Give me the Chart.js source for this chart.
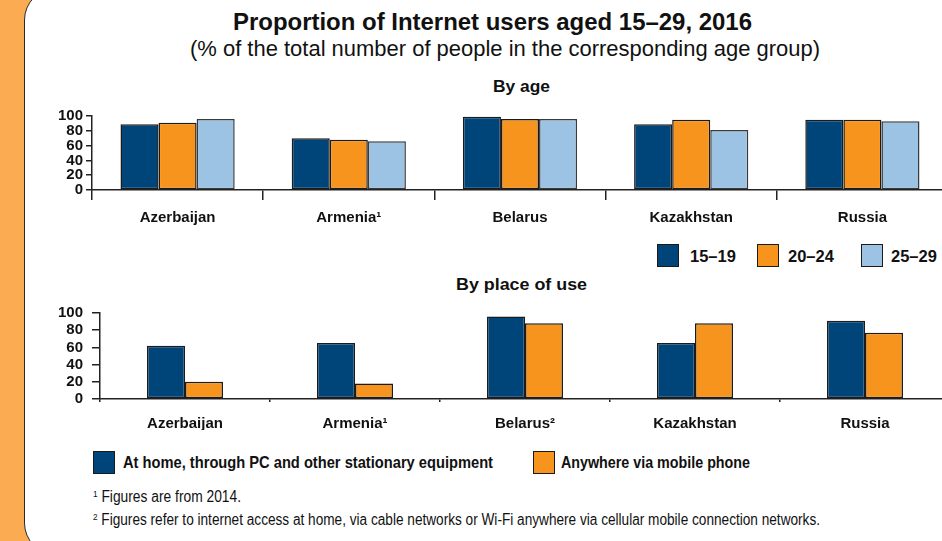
<!DOCTYPE html>
<html>
<head>
<meta charset="utf-8">
<script src="https://cdn.jsdelivr.net/npm/chart.js@4.4.1/dist/chart.umd.min.js"></script>
<style>
  html, body { margin: 0; padding: 0; }
  body { width: 942px; height: 541px; overflow: hidden; position: relative; background: #fbab52; font-family: "Liberation Sans", Arial, sans-serif; color: #111; }
  .panel { position: absolute; left: 24px; top: -12px; width: 960px; height: 565px; background: #fff; border: 1.5px solid #2a2a2a; border-radius: 32px 0 0 32px; }
  .txt { position: absolute; white-space: nowrap; line-height: 1; transform-origin: 0 50%; }
  .chart-box { position: absolute; left: 0; width: 960px; }
  .swatch { position: absolute; box-sizing: border-box; border: 1.5px solid #1b1b1b; }
  sup { font-size: 0.6em; vertical-align: 0.55em; line-height: 0; }
</style>
</head>
<body>
<div class="panel"></div>

<div class="txt" data-w="519" style="left:233px; top:10px; font-size:24px; font-weight:bold;">Proportion of Internet users aged 15–29, 2016</div>
<div class="txt" data-w="630" style="left:190px; top:38px; font-size:22px;">(% of the total number of people in the corresponding age group)</div>
<div class="txt" data-w="57" style="left:493px; top:78px; font-size:17px; font-weight:bold;">By age</div>

<div class="chart-box" style="top:100px; height:130px;"><canvas id="ageChart"></canvas></div>

<div id="ageLegend"></div>

<div class="txt" data-w="131" style="left:456px; top:276px; font-size:17px; font-weight:bold;">By place of use</div>

<div class="chart-box" style="top:295px; height:135px;"><canvas id="placeChart"></canvas></div>

<div id="placeLegend"></div>

<div class="txt" data-w="148" style="left:93px; top:489px; font-size:16px;"><sup>1</sup> Figures are from 2014.</div>
<div class="txt" data-w="727" style="left:93px; top:512px; font-size:16px;"><sup>2</sup> Figures refer to internet access at home, via cable networks or Wi-Fi anywhere via cellular mobile connection networks.</div>

<script>
// ---- data ----
const countriesByAge = ["Azerbaijan", "Armenia¹", "Belarus", "Kazakhstan", "Russia"];
const countriesByPlace = ["Azerbaijan", "Armenia¹", "Belarus²", "Kazakhstan", "Russia"];
const ageGroups = ["15–19", "20–24", "25–29"];
const age15to19 = [89, 70, 99, 89, 95];
const age20to24 = [91, 68, 96, 95, 95];
const age25to29 = [96, 66, 96, 81, 93];
const placeLabels = ["At home, through PC and other stationary equipment", "Anywhere via mobile phone"];
const atHome = [62, 65, 96, 65, 91];
const viaMobile = [20, 18, 88, 88, 77];
const yTickValues = [0, 20, 40, 60, 80, 100];

const DARK_BLUE = "#00457a";
const ORANGE = "#f7941e";
const LIGHT_BLUE = "#9dc3e4";
const LINE = "#222";
const SANS = "'Liberation Sans', Arial, sans-serif";

function makeBarChart(canvasId, labels, datasets, o) {
  return new Chart(document.getElementById(canvasId), {
    type: "bar",
    data: {
      labels: labels,
      datasets: datasets.map(d => ({
        label: d.label,
        data: d.data,
        backgroundColor: d.color,
        borderColor: d.border || "#1b1b1b",
        borderWidth: 1.5,
        borderSkipped: false,
        barPercentage: 1,
        categoryPercentage: o.catPct
      }))
    },
    options: {
      responsive: true,
      maintainAspectRatio: false,
      animation: false,
      layout: { padding: o.padding },
      plugins: { legend: { display: false }, tooltip: { enabled: false } },
      scales: {
        x: {
          offset: true,
          grid: { offset: true, drawOnChartArea: false, drawTicks: true, tickLength: o.xTick, color: LINE, lineWidth: 1.5 },
          border: { display: true, color: LINE, width: 1.5 },
          ticks: { color: "#111", padding: o.xPad, maxRotation: 0, autoSkip: false, font: { family: SANS, weight: "bold", size: 15 } },
          afterFit: s => { s.height = o.xHeight; }
        },
        y: {
          min: 0,
          max: 100,
          afterBuildTicks: s => { s.ticks = yTickValues.map(v => ({ value: v })); },
          grid: { drawOnChartArea: false, drawTicks: true, tickLength: o.yTick, color: LINE, lineWidth: 1.5 },
          border: { display: true, color: LINE, width: 1.5 },
          ticks: { color: "#111", padding: o.yPad, autoSkip: false, font: { family: SANS, weight: "bold", size: 15 } },
          afterFit: s => { s.width = 50; }
        }
      }
    }
  });
}

makeBarChart("ageChart", countriesByAge, [
  { label: ageGroups[0], data: age15to19, color: DARK_BLUE },
  { label: ageGroups[1], data: age20to24, color: ORANGE },
  { label: ageGroups[2], data: age25to29, color: LIGHT_BLUE, border: "#3a3a3a" }
], { catPct: 0.667, padding: { left: 42, right: 12, top: 16, bottom: 0 }, xTick: 10, xPad: 9, xHeight: 40, yTick: 6, yPad: 3 });

makeBarChart("placeChart", countriesByPlace, [
  { label: placeLabels[0], data: atHome, color: DARK_BLUE },
  { label: placeLabels[1], data: viaMobile, color: ORANGE }
], { catPct: 0.447, padding: { left: 50, right: 10, top: 18, bottom: 0 }, xTick: 3, xPad: 13, xHeight: 31, yTick: 8, yPad: 9 });

// ---- legends ----
function addLegend(containerId, items) {
  const box = document.getElementById(containerId);
  items.forEach(it => {
    const sw = document.createElement("div");
    sw.className = "swatch";
    sw.style.cssText = `left:${it.x}px; top:${it.y}px; width:22px; height:23px; background:${it.color};`;
    box.appendChild(sw);
    const t = document.createElement("div");
    t.className = "txt";
    t.style.cssText = `left:${it.x + it.gap}px; top:${it.y + it.dy}px; font-size:${it.size}px; font-weight:bold;`;
    if (it.w) t.dataset.w = it.w;
    t.textContent = it.text;
    box.appendChild(t);
  });
}

addLegend("ageLegend", [
  { x: 657, y: 244, color: DARK_BLUE, text: ageGroups[0], gap: 33, size: 16.5, dy: 4 },
  { x: 757, y: 244, color: ORANGE, text: ageGroups[1], gap: 31, size: 16.5, dy: 4 },
  { x: 861, y: 244, color: LIGHT_BLUE, text: ageGroups[2], gap: 30, size: 16.5, dy: 4 }
]);
addLegend("placeLegend", [
  { x: 93, y: 451, color: DARK_BLUE, text: placeLabels[0], gap: 30, size: 17, w: 370, dy: 3 },
  { x: 533, y: 451, color: ORANGE, text: placeLabels[1], gap: 28, size: 17, w: 189, dy: 3 }
]);

// condensed lettering: squeeze text runs horizontally to their set widths
document.querySelectorAll(".txt[data-w]").forEach(el => {
  const natural = el.getBoundingClientRect().width;
  el.style.transform = `scaleX(${(+el.dataset.w / natural).toFixed(4)})`;
});
</script>
</body>
</html>
